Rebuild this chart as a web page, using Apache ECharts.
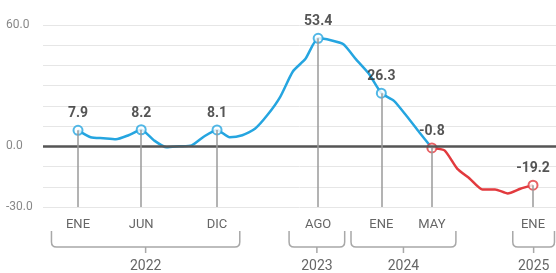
<!DOCTYPE html>
<html>
<head>
<meta charset="utf-8">
<script src="https://cdn.jsdelivr.net/npm/echarts@6/dist/echarts.min.js"></script>
<style>html,body{margin:0;padding:0;background:#fff}#chart{width:556px;height:273px}</style>
</head>
<body>
<div id="chart"></div>
<script>
// variacion mensual, ENE 2022 (indice 0) a ENE 2025 (indice 36)
var valores = [7.9,4.5,4.0,3.5,5.5,8.2,3.0,-0.5,0.0,0.5,5.0,8.1,
  4.5,5.5,8.7,15.6,24.5,37.0,43.3,53.4,52.5,50.5,43.0,36.0,
  26.3,22.5,15.0,7.0,-0.8,-2.0,-11.0,-16.0,-21.3,-21.3,-23.3,-21.0,-19.2];
var corte = 28; // MAY 2024, desde aqui el tramo va en rojo
var hitos = [0,5,11,19,24,28,36];
var hitosMes = ['ENE','JUN','DIC','AGO','ENE','MAY','ENE'];
var anios = ['2022','2023','2024','2025'];
var aniosDesde = [-2.1,16.7,21.6,34.4];
var aniosHasta = [12.8,21.1,29.9,37.7];
var yTicks = [60,0,-30];

var azul = '#25a5e0', rojo = '#e23a3e';
var fuente = 'Roboto, "Liberation Sans", sans-serif';

var tramoAzul = [], tramoRojo = [];
for (var i = 0; i < valores.length; i++) {
	if (i <= corte) tramoAzul.push([i, valores[i]]);
	if (i >= corte) tramoRojo.push([i, valores[i]]);
}
var puntosAzul = [], puntosRojo = [], caidas = [];
for (var k = 0; k < hitos.length; k++) {
	var p = [hitos[k], valores[hitos[k]]];
	if (hitos[k] < corte) puntosAzul.push(p); else puntosRojo.push(p);
	caidas.push([{coord: p}, {coord: [hitos[k], -30]}]);
}
var llaves = [];
for (var a = 0; a < anios.length; a++) llaves.push([aniosDesde[a], aniosHasta[a]]);

function renderMes(params, api) {
	var pt = api.coord([api.value(0), -30]);
	return {type: 'text', x: pt[0], y: 225, style: {
		text: hitosMes[params.dataIndex], fill: '#666', font: '13px ' + fuente,
		align: 'center', verticalAlign: 'middle'}};
}

function renderAnio(params, api) {
	var x1 = api.coord([api.value(0), 0])[0];
	var x2 = api.coord([api.value(1), 0])[0];
	var cx = (x1 + x2) / 2;
	var top = 231, base = 247, r = 5;
	var d = 'M' + x1 + ' ' + top + ' L' + x1 + ' ' + (base - r) +
		' Q' + x1 + ' ' + base + ' ' + (x1 + r) + ' ' + base +
		' L' + (x2 - r) + ' ' + base +
		' Q' + x2 + ' ' + base + ' ' + x2 + ' ' + (base - r) +
		' L' + x2 + ' ' + top +
		' M' + cx + ' ' + base + ' L' + cx + ' ' + (base + 6);
	return {type: 'group', children: [
		{type: 'path', shape: {pathData: d}, style: {fill: null, stroke: '#a8a8a8', lineWidth: 1.5}},
		{type: 'text', x: cx, y: 266, style: {
			text: anios[params.dataIndex], fill: '#666', font: '14px ' + fuente,
			align: 'center', verticalAlign: 'middle'}}
	]};
}

var etiqueta = {show: true, position: 'top', distance: 4, color: '#2b2b2b',
	fontWeight: 'bold', fontSize: 14, fontFamily: fuente,
	formatter: function (p) { return p.value[1].toFixed(1); }};

var chart = echarts.init(document.getElementById('chart'));
chart.setOption({
	animation: false,
	grid: {left: 43, right: 0, top: 25, bottom: 66},
	xAxis: {type: 'value', min: -2.77, max: 37.82, show: false},
	yAxis: {
		type: 'value', min: -30, max: 60, interval: 10,
		axisLine: {show: false}, axisTick: {show: false},
		splitLine: {lineStyle: {color: '#e6e6e6', width: 1}},
		axisLabel: {
			align: 'left', margin: 37, color: '#888', fontSize: 12, fontFamily: fuente,
			padding: [0, 0, 7, 0],
			formatter: function (v) { return yTicks.indexOf(v) >= 0 ? v.toFixed(1) : ''; }
		}
	},
	series: [
		{
			type: 'line', data: [], z: 1, silent: true,
			markLine: {
				silent: true, symbol: 'none', label: {show: false},
				data: [{yAxis: 0, lineStyle: {color: '#555', width: 2.5, type: 'solid'}}].concat(
					caidas.map(function (c) {
						return [Object.assign({lineStyle: {color: '#9a9a9a', width: 1.5, type: 'solid'}}, c[0]), c[1]];
					}))
			}
		},
		{type: 'line', data: tramoAzul, smooth: 0.2, showSymbol: false, z: 3,
			lineStyle: {color: azul, width: 2.5}},
		{type: 'line', data: tramoRojo, smooth: 0.2, showSymbol: false, z: 3,
			lineStyle: {color: rojo, width: 2.5}},
		{type: 'scatter', data: puntosAzul, symbol: 'circle', symbolSize: 9, z: 4,
			itemStyle: {color: '#fff', borderColor: azul, borderWidth: 2}, label: etiqueta},
		{type: 'scatter', data: puntosRojo, symbol: 'circle', symbolSize: 9, z: 4,
			itemStyle: {color: '#fff', borderColor: rojo, borderWidth: 2}, label: etiqueta},
		{type: 'custom', data: hitos, renderItem: renderMes, clip: false, silent: true},
		{type: 'custom', data: llaves, renderItem: renderAnio, clip: false, silent: true}
	]
});
</script>
</body>
</html>
